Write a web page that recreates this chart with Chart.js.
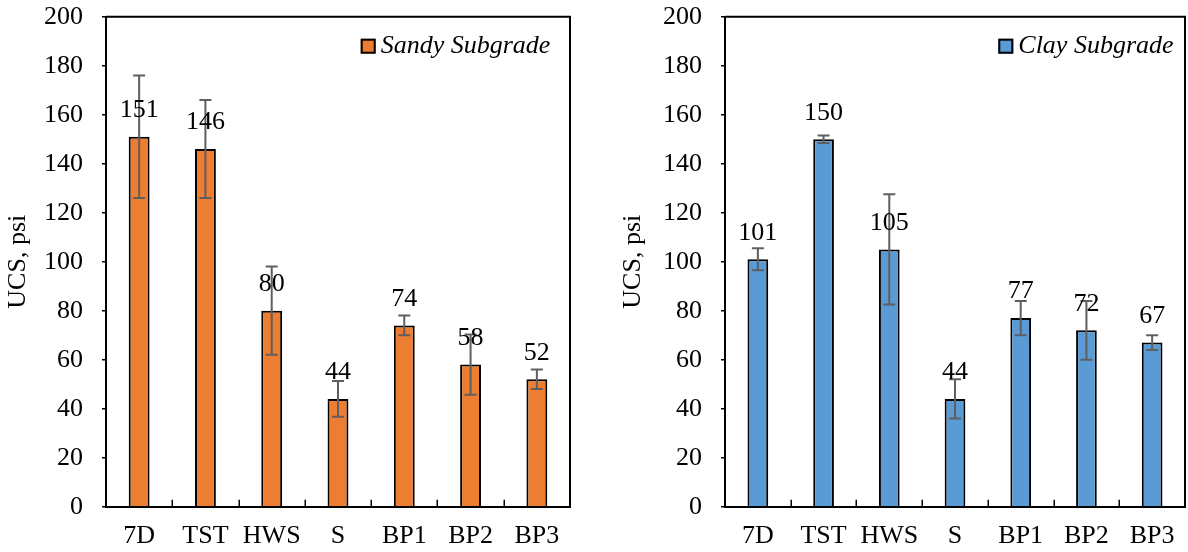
<!DOCTYPE html>
<html>
<head>
<meta charset="utf-8">
<script src="https://cdn.jsdelivr.net/npm/chart.js@4.4.1/dist/chart.umd.min.js"></script>
<style>
  html, body { margin: 0; padding: 0; background: #fff; width: 1188px; height: 552px; overflow: hidden; }
  .panel { position: absolute; top: 0; width: 594px; height: 552px; }
  canvas { display: block; }
</style>
</head>
<body>
<div class="panel" style="left:0"><canvas id="sandy" width="594" height="552"></canvas></div>
<div class="panel" style="left:594px"><canvas id="clay" width="594" height="552"></canvas></div>
<script>
// Treatment categories on the x axis
const categories = ['7D', 'TST', 'HWS', 'S', 'BP1', 'BP2', 'BP3'];

// Sandy subgrade: mean UCS (psi) and ± error
const sandyUCS = [151, 146, 80, 44, 74, 58, 52];
const sandyErr = [25, 20, 18, 7.3, 4, 12.3, 4];

// Clay subgrade: mean UCS (psi) and ± error
const clayUCS = [101, 150, 105, 44, 77, 72, 67];
const clayErr = [4.5, 1.5, 22.5, 8, 7, 12, 3];

// Value axis range
const yMin = 0;
const yMax = 200;
const yStep = 20;

const FONT = "'Liberation Serif', 'Times New Roman', serif";
const FONT_SIZE = 26;

// Error bars, value labels, frame, inner x ticks and legend box
const annotate = {
  id: 'annotate',
  afterDatasetsDraw(chart, args, opts) {
    const { ctx, chartArea: a, scales: { x, y } } = chart;
    const ds = chart.data.datasets[0];
    const meta = chart.getDatasetMeta(0);
    ctx.save();

    // error bars
    ctx.strokeStyle = '#5f5f5f';
    ctx.lineWidth = 2;
    meta.data.forEach((bar, i) => {
      const v = ds.data[i], e = opts.errors[i];
      const yt = y.getPixelForValue(v + e), yb = y.getPixelForValue(v - e);
      ctx.beginPath();
      ctx.moveTo(bar.x, yt); ctx.lineTo(bar.x, yb);
      ctx.moveTo(bar.x - 6, yt); ctx.lineTo(bar.x + 6, yt);
      ctx.moveTo(bar.x - 6, yb); ctx.lineTo(bar.x + 6, yb);
      ctx.stroke();
    });

    // value labels above bars
    ctx.fillStyle = '#000';
    ctx.font = FONT_SIZE + 'px ' + FONT;
    ctx.textAlign = 'center';
    ctx.textBaseline = 'middle';
    meta.data.forEach((bar, i) => {
      ctx.fillText(String(ds.data[i]), bar.x, y.getPixelForValue(ds.data[i]) - 26.5);
    });

    // top and right frame lines
    ctx.strokeStyle = '#000';
    ctx.lineWidth = 2;
    ctx.beginPath();
    ctx.moveTo(a.left, a.top);
    ctx.lineTo(a.right, a.top);
    ctx.lineTo(a.right, a.bottom);
    ctx.stroke();

    // short inward ticks between categories
    const half = (x.getPixelForValue(1) - x.getPixelForValue(0)) / 2;
    ctx.lineWidth = 1.5;
    for (let i = 0; i < categories.length - 1; i++) {
      const px = Math.round(x.getPixelForValue(i) + half) + 0.25;
      ctx.beginPath();
      ctx.moveTo(px, a.bottom);
      ctx.lineTo(px, a.bottom - 7);
      ctx.stroke();
    }

    // legend inside the plot area
    const bx = a.right - opts.legendOffset;
    const cy = a.top + 29.5;
    ctx.fillStyle = ds.backgroundColor;
    ctx.fillRect(bx, cy - 7.5, 15, 15);
    ctx.strokeStyle = '#000';
    ctx.lineWidth = 2;
    ctx.strokeRect(bx + 1, cy - 6.5, 13, 13);
    ctx.fillStyle = '#000';
    ctx.font = 'italic ' + FONT_SIZE + 'px ' + FONT;
    ctx.textAlign = 'left';
    ctx.textBaseline = 'middle';
    ctx.fillText(ds.label, bx + 20, cy);

    ctx.restore();
  }
};

function makeChart(id, label, values, errors, color, geom) {
  return new Chart(document.getElementById(id), {
    type: 'bar',
    data: {
      labels: categories,
      datasets: [{
        label: label,
        data: values,
        backgroundColor: color,
        borderColor: '#000',
        borderWidth: 2,
        categoryPercentage: 1,
        barPercentage: 0.315
      }]
    },
    options: {
      responsive: false,
      animation: false,
      layout: { padding: { top: 16.7, right: geom.padRight, bottom: 0, left: 0 } },
      plugins: {
        legend: { display: false },
        tooltip: { enabled: false },
        annotate: { errors: errors, legendOffset: geom.legendOffset }
      },
      scales: {
        x: {
          ticks: { padding: 14, color: '#000', font: { family: FONT, size: FONT_SIZE } },
          grid: { display: false, drawTicks: false },
          border: { display: true, color: '#000', width: 2 },
          afterFit(scale) {
            scale.height = 45.3;
            scale.paddingLeft = 0;
            scale.paddingRight = 0;
          }
        },
        y: {
          min: yMin,
          max: yMax,
          ticks: { stepSize: yStep, padding: 19, color: '#000', font: { family: FONT, size: FONT_SIZE } },
          grid: { display: true, drawOnChartArea: false, drawTicks: true, tickLength: 4, color: '#000', lineWidth: 1.5 },
          border: { display: true, color: '#000', width: 2 },
          title: {
            display: true,
            text: 'UCS, psi',
            color: '#000',
            font: { family: FONT, size: FONT_SIZE },
            padding: { top: geom.titlePad, bottom: 0 }
          },
          afterFit(scale) {
            scale.width = geom.axisWidth;
            scale.paddingTop = 0;
            scale.paddingBottom = 0;
          }
        }
      }
    },
    plugins: [annotate]
  });
}

makeChart('sandy', 'Sandy Subgrade', sandyUCS, sandyErr, '#ED7D31',
  { axisWidth: 106, titlePad: 2.8, padRight: 24, legendOffset: 209.3 });
makeChart('clay', 'Clay Subgrade', clayUCS, clayErr, '#5B9BD5',
  { axisWidth: 131, titlePad: 23.8, padRight: 3, legendOffset: 186.7 });
</script>
</body>
</html>
